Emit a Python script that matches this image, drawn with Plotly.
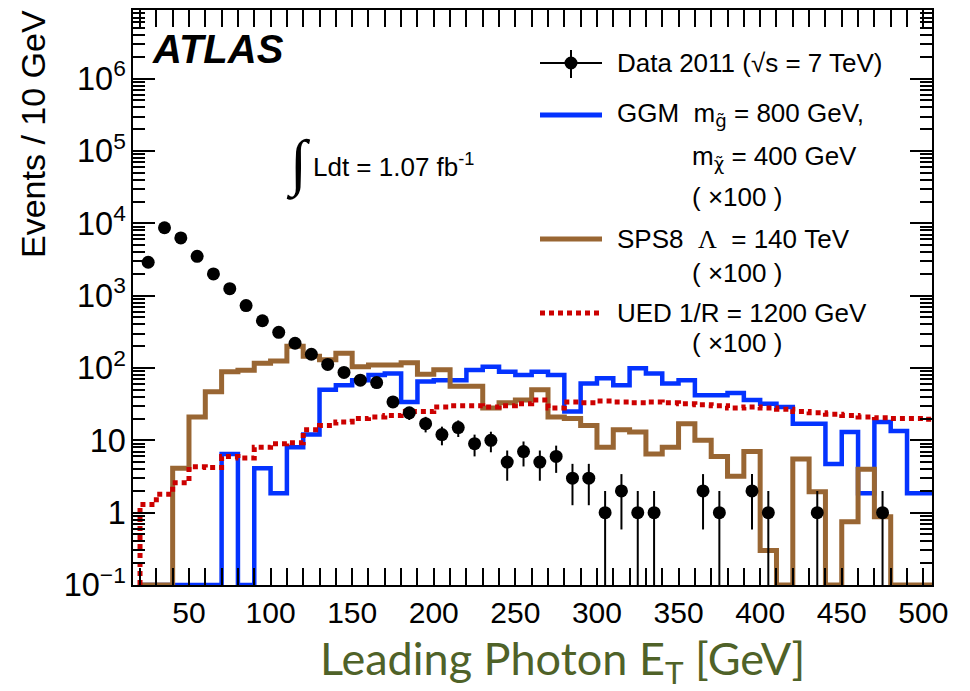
import numpy as np
import plotly.graph_objects as go

# ---------------- data ----------------
bin_edges = list(range(20, 520, 10))          # 20 ... 510 GeV
bin_low = bin_edges[:-1]                      # 49 bins of 10 GeV
bin_centers = [b + 5 for b in bin_low]

data_counts = [2900, 8700, 6300, 3500, 2000, 1250, 730, 450, 312, 220,
               155, 112, 87, 68, 63, 34, 24, 17, 12, 15,
               9, 10, 5, 7, 5, 6, 3, 3, 1, 2,
               1, 1, 0, 0, 2, 1, 0, 2, 1, 0,
               0, 1, 0, 0, 0, 1, 0, 0, 0]

ggm_x100 = [0, 0, 0, 0, 0, 6.5, 0, 4.1, 1.85, 8,
            12, 50, 58, 68, 80, 84, 34, 65, 68, 68,
            94, 104, 89, 80, 89, 80, 25, 61, 72, 58,
            99, 84, 61, 68, 42, 42, 45, 36, 32, 29,
            17, 17, 4.7, 13, 1.85, 18, 13.5, 1.85, 1.85]

sps8_x100 = [0, 0, 4.1, 21, 47, 89, 93, 116, 125, 200,
             145, 130, 160, 104, 110, 110, 118, 82, 95, 56,
             56, 28, 33, 36, 50, 21, 20, 16, 8, 14,
             13, 6.5, 8, 17, 10, 6, 3.2, 7, 0.3, 0,
             5.5, 1.95, 0, 0.75, 4, 0.88, 0, 0, 0]

ued_x100 = [1.3, 1.8, 2.6, 4.3, 4.2, 6, 5.7, 8, 9, 9.3,
            14, 16, 18, 20, 21, 22, 25, 25, 29, 30,
            30, 29, 30, 32, 36, 28, 34, 33, 35, 34,
            33, 34, 33, 32, 31, 30, 28, 29, 28, 27,
            25, 24, 23, 22, 21, 20.5, 20, 20, 19.5]

x_range = [15.7, 505.3]
y_log_range = [-1, 6.95]
YMIN = 10 ** y_log_range[0]
y_decades = list(range(-1, 7))
y_minor_vals = [m * 10.0 ** d for d in y_decades for m in range(2, 10)]

# ---------------- layout geometry ----------------
W, H = 970, 691
ML, MR, MT, MB = 133, 38, 10, 106
PW, PH = W - ML - MR, H - MT - MB


def px(x):
    return (x - ML) / PW


def py(y):
    return (H - MB - y) / PH


FONT = "Liberation Sans, Arial, Helvetica, sans-serif"


def hist_trace(vals, color, width, dash):
    xs = [bin_edges[0]] + bin_edges
    ys = [YMIN] + [v if v > YMIN else YMIN for v in vals] + [vals[-1] if vals[-1] > YMIN else YMIN]
    return go.Scatter(x=xs, y=ys, mode="lines",
                      line=dict(color=color, width=width, dash=dash, shape="hv"),
                      showlegend=False, hoverinfo="skip")


BLUE = "#0433ff"
BROWN = "#996633"
RED = "#cc0000"

fig = go.Figure()
fig.add_trace(hist_trace(ggm_x100, BLUE, 4.5, "solid"))
fig.add_trace(hist_trace(sps8_x100, BROWN, 5, "solid"))
fig.add_trace(hist_trace(ued_x100, RED, 5, "5px,4px"))

yd = [c if c > 0 else None for c in data_counts]
err = [float(np.sqrt(c)) if c > 0 else None for c in data_counts]
fig.add_trace(go.Scatter(
    x=bin_centers, y=yd, mode="markers",
    marker=dict(size=13, color="black"),
    error_y=dict(type="data", array=err, arrayminus=err, thickness=2, width=0, color="black"),
    showlegend=False, hoverinfo="skip"))

# empty traces anchoring the minor-tick overlay axes
fig.add_trace(go.Scatter(x=[None], y=[None], yaxis="y2", showlegend=False, hoverinfo="skip"))
fig.add_trace(go.Scatter(x=[None], y=[None], yaxis="y3", showlegend=False, hoverinfo="skip"))

axis_common = dict(
    showline=True, linewidth=2, linecolor="black", mirror="allticks",
    ticks="inside", tickwidth=1.5, tickcolor="black",
    showgrid=False, zeroline=False,
)
minor_axis = dict(type="log", range=y_log_range, tickmode="array", tickvals=y_minor_vals,
                  ticks="inside", ticklen=12, tickwidth=1.5, tickcolor="black",
                  showticklabels=False, showgrid=False, zeroline=False, showline=False,
                  overlaying="y", anchor="x")

fig.update_layout(
    width=W, height=H,
    margin=dict(l=ML, r=MR, t=MT, b=MB, autoexpand=False),
    paper_bgcolor="white", plot_bgcolor="white",
    showlegend=False,
    xaxis=dict(range=x_range, tick0=0, dtick=50, ticklen=17,
               tickfont=dict(family=FONT, size=30, color="black"),
               minor=dict(tick0=0, dtick=10, ticks="inside", ticklen=9, tickwidth=1.5,
                          tickcolor="black", showgrid=False),
               **axis_common),
    yaxis=dict(type="log", range=y_log_range, dtick=1, exponentformat="power",
               ticklen=22,
               tickfont=dict(family=FONT, size=26, color="black"),
               **axis_common),
    yaxis2=dict(side="left", **minor_axis),
    yaxis3=dict(side="right", **minor_axis),
)

ann = []


def text(s, x, y, size=26, xanchor="left", color="black", family=FONT, angle=0):
    ann.append(dict(text=s, x=px(x), y=py(y), xref="paper", yref="paper",
                    xanchor=xanchor, yanchor="middle", showarrow=False,
                    textangle=angle, font=dict(family=family, size=size, color=color)))


# axis titles
text("Events / 10 GeV", 33, 134, size=34, xanchor="center", angle=-90)
text("Leading Photon E<sub>T</sub> [GeV]", 562, 661, size=45, xanchor="center",
     color="#4f6228", family="Lato, Open Sans, sans-serif")

# ATLAS and luminosity
text("<b><i>ATLAS</i></b>", 150, 49, size=40)
text("∫", 298, 164, size=62, xanchor="center", family="Liberation Serif, serif")
text("Ldt = 1.07 fb<sup>-1</sup>", 311, 166, size=26)

# legend texts
NB = "\u00a0"
DJ = "<span style=\"font-family:DejaVu Sans\">{}</span>"
text("Data 2011 (√s = 7 TeV)", 615, 63)
text("GGM" + NB * 2 + "m<sub>" + DJ.format("g̃") + "</sub> = 800 GeV,", 615, 115)
text("m<sub>" + DJ.format("χ̃") + "</sub> = 400 GeV", 690, 157)
text("( ×100 )", 690, 197)
text("SPS8" + NB * 2 + "<span style=\"font-family:Liberation Serif\">Λ</span>" + NB * 2 + "= 140 TeV", 615, 239)
text("( ×100 )", 690, 273)
text("UED 1/R = 1200 GeV", 615, 313)
text("( ×100 )", 690, 343)

fig.update_layout(annotations=ann)

shapes = []
# data legend symbol
shapes.append(dict(type="line", xref="paper", yref="paper", x0=px(540), x1=px(602), y0=py(63), y1=py(63),
                   line=dict(color="black", width=2)))
shapes.append(dict(type="line", xref="paper", yref="paper", x0=px(571), x1=px(571), y0=py(50), y1=py(78),
                   line=dict(color="black", width=2)))
shapes.append(dict(type="circle", xref="paper", yref="paper", xsizemode="pixel", ysizemode="pixel",
                   xanchor=px(571), yanchor=py(63), x0=-6.5, x1=6.5, y0=-6.5, y1=6.5,
                   fillcolor="black", line=dict(color="black", width=0)))
# model legend symbols
shapes.append(dict(type="line", xref="paper", yref="paper", x0=px(540), x1=px(602), y0=py(115), y1=py(115),
                   line=dict(color=BLUE, width=5)))
shapes.append(dict(type="line", xref="paper", yref="paper", x0=px(540), x1=px(602), y0=py(239), y1=py(239),
                   line=dict(color=BROWN, width=5)))
shapes.append(dict(type="line", xref="paper", yref="paper", x0=px(540), x1=px(600), y0=py(313), y1=py(313),
                   line=dict(color=RED, width=5, dash="5px,4px")))
fig.update_layout(shapes=shapes)

fig.write_html("out.html")
